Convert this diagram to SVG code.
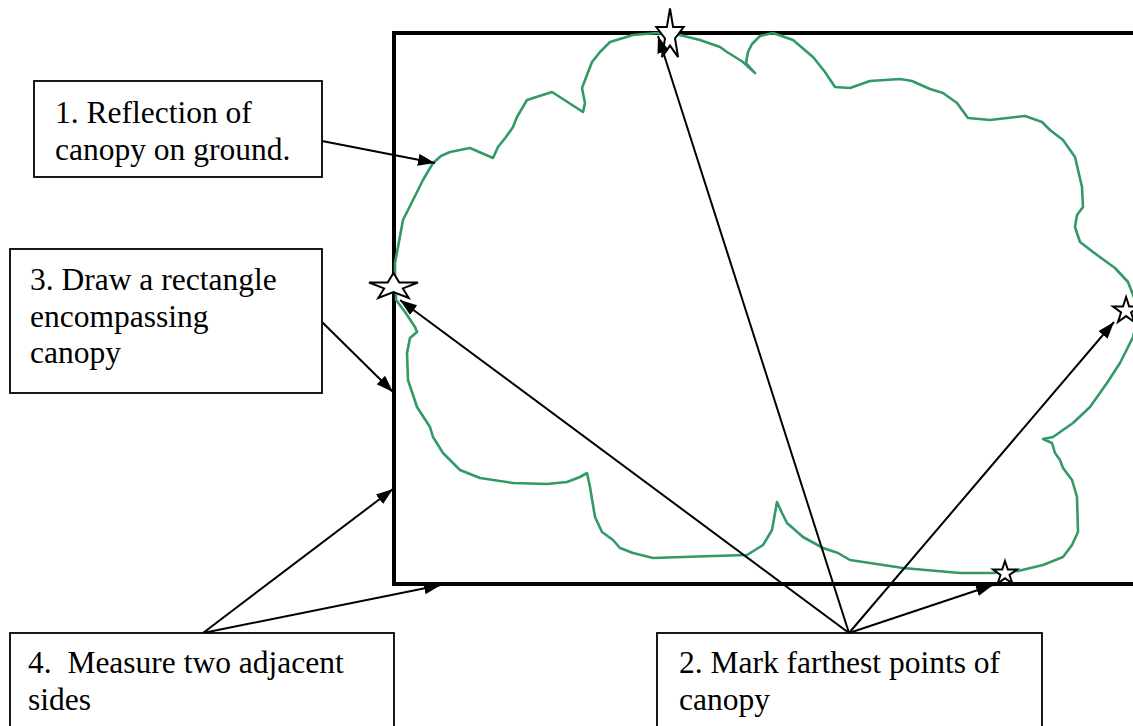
<svg xmlns="http://www.w3.org/2000/svg" width="1133" height="726" viewBox="0 0 1133 726">
<style>
.box{fill:#fff;stroke:#000;stroke-width:1.8}
.lbl{font-family:"Liberation Serif","Times New Roman",serif;font-size:31.5px;fill:#000}
.conn{stroke:#000;stroke-width:2;fill:none}
.star{fill:#fff;stroke:#000;stroke-width:2;stroke-linejoin:miter}
.cloud{fill:none;stroke:#339966;stroke-width:2.6;stroke-linejoin:round;stroke-linecap:round}
</style>
<defs>
<marker id="ah" markerUnits="userSpaceOnUse" markerWidth="18" markerHeight="14" refX="17" refY="6" orient="auto">
<path d="M0,0 L17,6 L0,12 z" fill="#000"/>
</marker>
</defs>
<rect width="1133" height="726" fill="#fff"/>
<g id="rectangle">
<rect x="394" y="33" width="760" height="551" fill="none" stroke="#000" stroke-width="4"/>
</g>
<g id="canopy">
<polyline class="cloud" points="396,292 395,275 395,263 398,247 403,220 413,200 423,180 433,163 441,156 450,152 470,148 493,158 498,147 506,137 513,127 517,117 527,100 552,92 583,112 585,103 582,88 592,62 600,52 610,42 633,35 657,33 680,35 700,40 720,47 727,52 743,62 755,73 746,63 748,52 752,44 760,36 773,33 793,40 813,57 825,72 835,87 850,88 870,81 900,79 912,81 930,89 943,93 957,103 968,118 990,120 1025,116 1042,122 1050,130 1063,140 1075,157 1082,187 1083,207 1077,215 1075,227 1080,242 1097,255 1115,268 1128,282 1135,300 1137,320 1133,337 1120,363 1107,383 1090,407 1073,423 1053,437 1043,439 1052,443 1055,453 1060,460 1063,468 1072,480 1077,497 1078,532 1072,545 1063,557 1043,565 1018,571 993,573 960,573 903,568 850,560 838,553 823,548 803,537 787,523 782,513 777,502 772,530 763,545 747,555 713,556 653,558 633,553 620,548 613,540 602,532 595,517 590,487 587,473 580,477 567,482 547,484 513,483 480,478 460,470 443,453 433,437 430,427 417,407 408,380 407,353 410,338 417,332 415,327 405,312 396,300 396,292"/>
</g>
<g id="stars">
<polygon class="star" points="670,8.3 673.1,27 683.7,27 675,38.5 678.1,57.1 670,45.6 661.9,57.1 665,38.5 656.3,27 666.9,27"/>
<polygon class="star" points="393.5,273 399.3,282.5 418,282.5 402.9,288.4 408.7,298 393.5,292.1 378.3,298 384.1,288.4 369,282.5 387.7,282.5"/>
<polygon class="star" points="1126.1,297 1129.2,306.5 1139.2,306.5 1131.1,312.4 1134.2,322 1126.1,316.1 1118,322 1121.1,312.4 1113,306.5 1123,306.5"/>
<polygon class="star" points="1005,561 1007.8,569.6 1016.9,569.6 1009.5,575 1012.4,583.6 1005,578.3 997.6,583.6 1000.5,575 993.1,569.6 1002.2,569.6"/>
</g>
<g id="connectors">
<line class="conn" x1="322" y1="141" x2="435" y2="163" marker-end="url(#ah)"/>
<line class="conn" x1="322" y1="322" x2="393" y2="392" marker-end="url(#ah)"/>
<line class="conn" x1="203" y1="633" x2="393" y2="489" marker-end="url(#ah)"/>
<line class="conn" x1="203" y1="633" x2="441" y2="585" marker-end="url(#ah)"/>
<line class="conn" x1="849" y1="633" x2="400" y2="300" marker-end="url(#ah)"/>
<line class="conn" x1="849" y1="633" x2="658" y2="36" marker-end="url(#ah)"/>
<line class="conn" x1="849" y1="633" x2="1114" y2="322" marker-end="url(#ah)"/>
<line class="conn" x1="849" y1="633" x2="993" y2="585" marker-end="url(#ah)"/>
</g>
<g id="node1">
<rect class="box" x="34" y="81" width="288" height="96"/>
<text class="lbl" x="55" y="123">1. Reflection of</text>
<text class="lbl" x="55" y="160">canopy on ground.</text>
</g>
<g id="node3">
<rect class="box" x="10" y="249" width="312" height="144"/>
<text class="lbl" x="30" y="290">3. Draw a rectangle</text>
<text class="lbl" x="30" y="326.5">encompassing</text>
<text class="lbl" x="30" y="363">canopy</text>
</g>
<g id="node4">
<rect class="box" x="10" y="633" width="384" height="110"/>
<text class="lbl" x="28" y="673" xml:space="preserve">4.  Measure two adjacent</text>
<text class="lbl" x="28" y="710">sides</text>
</g>
<g id="node2">
<rect class="box" x="657" y="633" width="385" height="110"/>
<text class="lbl" x="679" y="673">2. Mark farthest points of</text>
<text class="lbl" x="679" y="710">canopy</text>
</g>
</svg>
